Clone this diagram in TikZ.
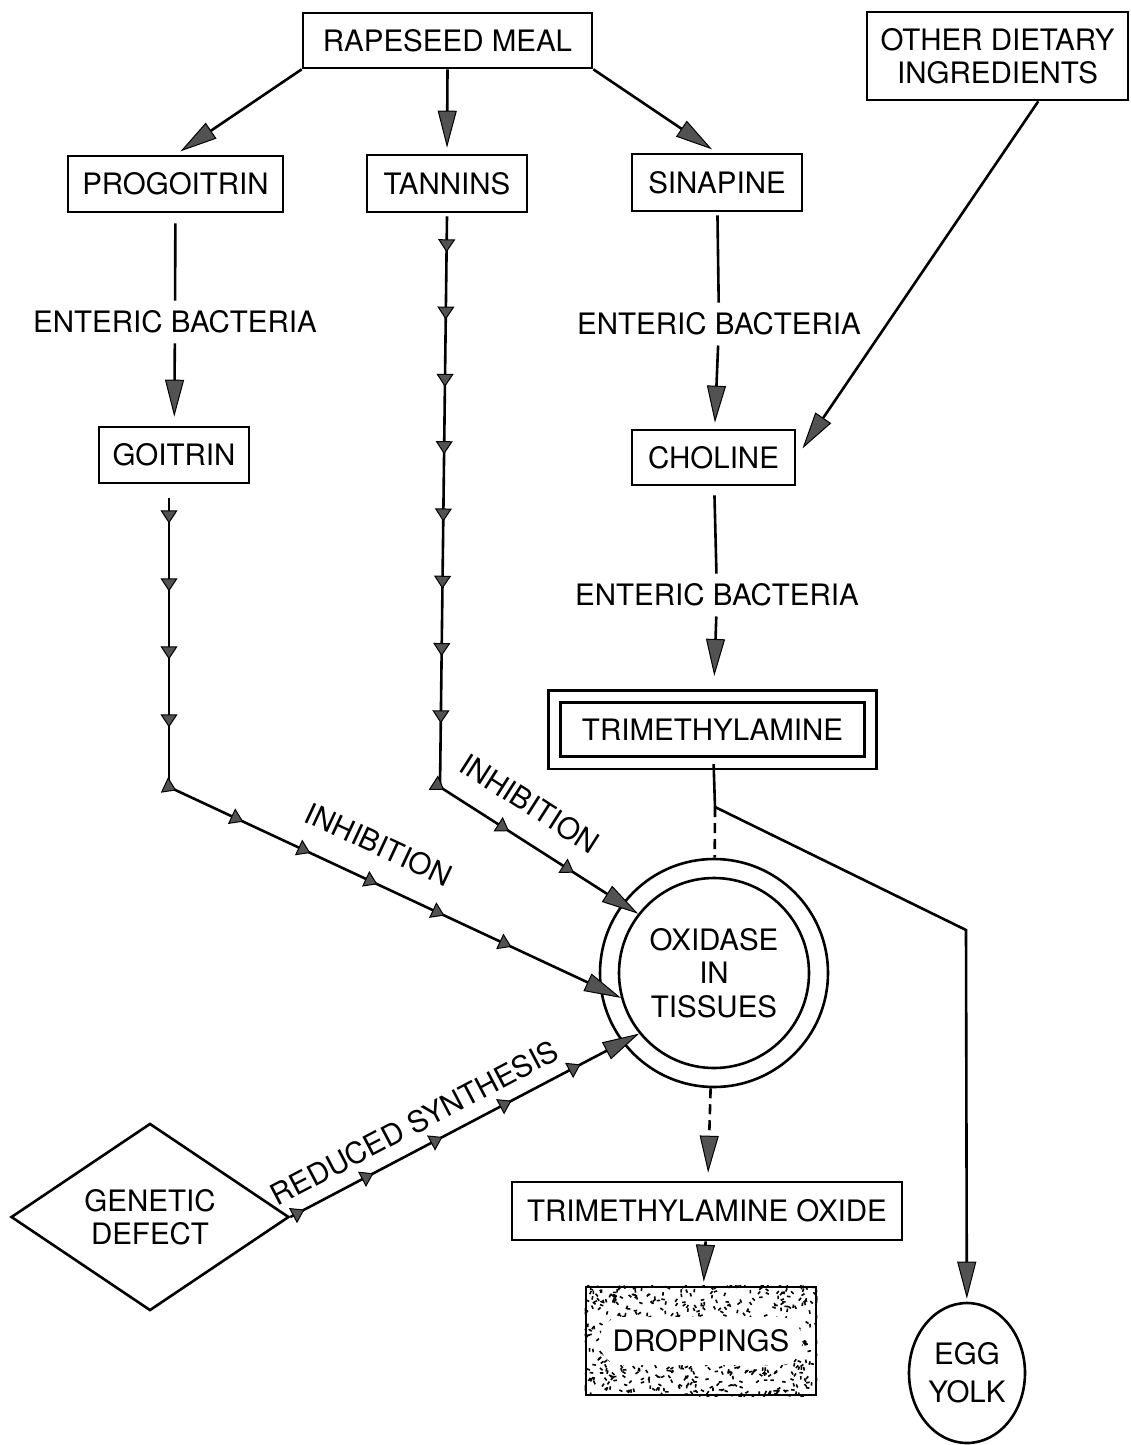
\documentclass[tikz,border=0pt]{standalone}
\usepackage{fontspec}
\setmainfont{TeX Gyre Heros}
\usetikzlibrary{arrows.meta,shapes.geometric,decorations.markings,calc,backgrounds}

\definecolor{headgray}{gray}{0.32}

\tikzset{
  box/.style={draw, line width=2.6pt, inner sep=6pt, minimum height=56pt},
  ring/.style={circle, draw, line width=2.6pt, inner sep=0pt},
  lbl/.style={inner xsep=4pt, inner ysep=10pt},
  wire/.style={line width=2.6pt},
  link/.style={wire, -{Triangle[length=37pt,width=19pt,line width=1pt,fill=headgray]}},
  dashwire/.style={dash pattern=on 10pt off 6pt},
  speck/.style={line width=1.6pt},
  tickmarks/.style n args={3}{postaction={decorate},
    decoration={markings, mark=between positions #1 and #2 step #3
      with {\arrow{Triangle[length=13pt,width=17pt,line width=1pt,fill=headgray]}}}},
}

\begin{document}
\begin{tikzpicture}[x=1pt,y=-1pt,font=\fontsize{29.5}{33.5}\selectfont]
\useasboundingbox (0,0) rectangle (1131,1445);

 % Nodes

\node[box, minimum width=289pt, minimum height=55pt] (rapeseed) at (447.5,40.5) {RAPESEED MEAL};
\node[box, minimum width=261pt, minimum height=88pt, align=center] (other) at (997.5,56) {OTHER DIETARY\\INGREDIENTS};

\node[box, minimum width=215pt] (progoitrin) at (175.5,184) {PROGOITRIN};
\node[box, minimum width=160pt, minimum height=57pt] (tannins) at (447,183.5) {TANNINS};
\node[box, minimum width=170pt, minimum height=57pt] (sinapine) at (717,182.5) {SINAPINE};

\node[lbl] (eb1) at (175,322) {ENTERIC BACTERIA};
\node[lbl] (eb2) at (719,324) {ENTERIC BACTERIA};

\node[box, minimum width=150pt] (goitrin) at (174,455) {GOITRIN};
\node[box, minimum width=163pt, minimum height=55pt] (choline) at (713.5,457.5) {CHOLINE};

\node[lbl] (eb3) at (717,595) {ENTERIC BACTERIA};

\node[box, double, double distance=9.5pt, minimum width=316pt, minimum height=66.5pt] (tma) at (712.5,729.5) {TRIMETHYLAMINE};

\node[ring, minimum size=228pt] (oxidasering) at (714,973) {};
\node[ring, minimum size=190pt, align=center] (oxidase) at (714,973) {OXIDASE\\IN\\TISSUES};

\node[box, minimum width=390pt, minimum height=58pt] (tmaoxide) at (707,1211) {TRIMETHYLAMINE OXIDE};
\node[box, minimum width=230pt, minimum height=108pt] (droppings) at (701,1341) {DROPPINGS};
\node[ellipse, draw, line width=2.6pt, inner sep=0pt, minimum width=116pt, minimum height=140pt,
      align=center, font=\fontsize{29.5}{38}\selectfont] (egg) at (967,1373) {EGG\\YOLK};
\node[diamond, draw, line width=2.6pt, inner sep=0pt, minimum width=278pt, minimum height=183pt,
      align=center] (genetic) at (150,1217) {GENETIC\\DEFECT};

% stippled droppings
\begin{scope}[on background layer]
  \clip (droppings.north west) rectangle (droppings.south east);
  \pgfmathsetseed{4}
  \foreach \k in {1,...,650}{
    \pgfmathsetmacro\stx{rnd*236-118}
    \pgfmathsetmacro\sty{rnd*114-57}
    \pgfmathsetmacro\sta{rnd*180}
    \draw[speck, shift={(droppings.center)}] (\stx,\sty) -- ++(\sta:3.5pt);
  }
  \fill[white, rounded corners=22pt, shift={(droppings.center)}] (-101,-24) rectangle (101,24);
\end{scope}

\coordinate (gcorner) at (169,787);
\coordinate (gtop) at ($(goitrin.south -| gcorner)+(0,14)$);
\coordinate (tcorner) at (440,787);
\coordinate (ttop) at ($(tannins.south)+(0,3)$);
\coordinate (tmasplit) at (715,807);
\coordinate (eggbend) at (966,930);

 % Connect nodes

\draw[link, shorten >=6pt] (rapeseed.south west) -- (progoitrin.north);
\draw[link, shorten >=6pt] (rapeseed.south) -- (tannins.north);
\draw[link, shorten >=6pt] (rapeseed.south east) -- (sinapine.north);
\draw[link, shorten >=11pt] (other.312) -- (choline.east);

\draw[wire, shorten <=10pt] (progoitrin) -- (eb1);
\draw[link, shorten >=9pt] (eb1) -- (goitrin);
\draw[wire, shorten <=3pt] (sinapine) -- (eb2);
\draw[link, shorten >=6pt] (eb2) -- (choline);
\draw[wire, shorten <=9pt] (choline) -- (eb3);
\draw[link, shorten >=19pt] (eb3) -- (tma);

\draw[wire, tickmarks={25pt}{240pt}{68pt}] (gtop) -- (gcorner);
\draw[link, tickmarks={8pt}{400pt}{74pt}] (gcorner) -- (oxidase.195)
  node[pos=0.43, sloped, above, inner sep=24pt] {INHIBITION};

\draw[wire, tickmarks={36pt}{540pt}{67.3pt}] (ttop) -- (tcorner);
\draw[link, tickmarks={5pt}{170pt}{77pt}] (tcorner) -- (oxidase.142)
  node[pos=0.36, sloped, above, inner sep=22pt] {INHIBITION};

\draw[link, tickmarks={16pt}{340pt}{78pt}] (genetic.east) -- (oxidase.219)
  node[pos=0.39, sloped, above, inner sep=13pt] {REDUCED SYNTHESIS};

\draw[wire] (tma) -- (tmasplit);
\draw[wire, dashwire] (tmasplit) -- (oxidasering);
\draw[link, shorten >=3pt] (tmasplit) -- (eggbend) -- (egg);
\draw[link, dashwire, shorten >=8pt] (oxidasering) -- (tmaoxide);
\draw[link, dashwire, shorten >=4pt] (tmaoxide) -- (droppings);

\end{tikzpicture}
\end{document}
